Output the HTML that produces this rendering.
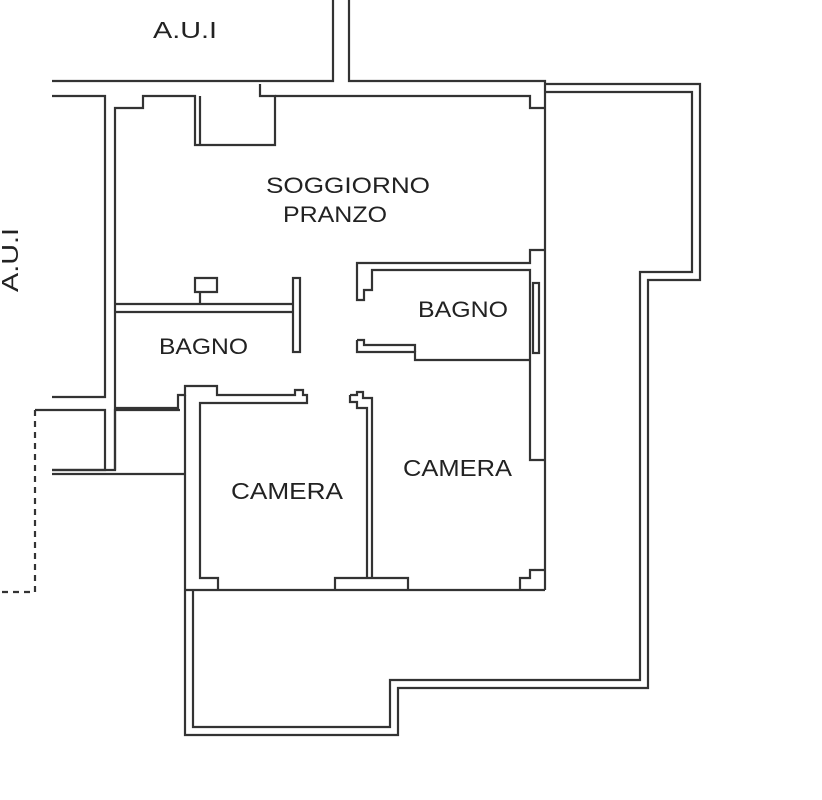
<!DOCTYPE html>
<html><head><meta charset="utf-8"><style>
html,body{margin:0;padding:0;background:#fff;}
svg{display:block;}
text{font-family:"Liberation Sans",sans-serif;fill:#222;}
</style></head><body>
<svg width="822" height="800" viewBox="0 0 822 800" xmlns="http://www.w3.org/2000/svg">
<g fill="none" stroke="#333" stroke-width="2.2" stroke-linejoin="miter">
<polyline points="52,81 333,81 333,0"/>
<polyline points="349,0 349,81 545,81 545,590"/>
<polyline points="52,96 105,96 105,397 52,397"/>
<polyline points="35,410 105,410 105,470 52,470"/>
<polyline points="180,410 115,410 115,470 52,470" />
<line x1="52" y1="474" x2="185" y2="474"/>
<polyline points="35,410 35,592 0,592" stroke-dasharray="6,5"/>
<polyline points="115,470 115,108 143,108 143,96 195,96 195,145 275,145 275,96 260,96 260,84"/>
<polyline points="200,96 200,145"/>
<polyline points="275,96 530,96 530,108 545,108"/>
<polyline points="115,304 293,304"/>
<polyline points="115,312 293,312"/>
<rect x="293" y="278" width="7" height="74"/>
<polyline points="200,304 200,292 195,292 195,278 217,278 217,292 200,292"/>
<polyline points="115,408 178,408 178,395 185,395 185,386 217,386 217,395 295,395 295,390 303,390 303,395 307,395 307,403 200,403 200,578 218,578 218,590"/>
<polyline points="185,395 185,735 398,735 398,688 648,688 648,280 700,280 700,84 545,84"/>
<polyline points="193,590 193,727 390,727 390,680 640,680 640,272 692,272 692,92 545,92"/>
<line x1="185" y1="590" x2="545" y2="590"/>
<polyline points="350,395 357,395 357,392 363,392 363,398 372,398 372,578"/>
<polyline points="350,395 350,402 357,402 357,408 367,408 367,578"/>
<polyline points="335,590 335,578 408,578 408,590"/>
<polyline points="520,590 520,578 530,578 530,570 545,570"/>
<polyline points="545,250 530,250 530,263 357,263 357,300 364,300 364,290 372,290 372,270 530,270 530,460 545,460"/>
<rect x="533" y="283" width="6" height="70"/>
<polyline points="357,340 357,352 415,352 415,360 530,360"/>
<polyline points="357,340 364,340 364,345 415,345 415,352"/>
</g>
<text x="153" y="38" font-size="23" textLength="64" lengthAdjust="spacingAndGlyphs">A.U.I</text>
<text x="0" y="0" font-size="23" textLength="64" lengthAdjust="spacingAndGlyphs" transform="translate(18,292) rotate(-90)">A.U.I</text>
<text x="266" y="193" font-size="22" textLength="164" lengthAdjust="spacingAndGlyphs">SOGGIORNO</text>
<text x="283" y="222" font-size="22" textLength="104" lengthAdjust="spacingAndGlyphs">PRANZO</text>
<text x="418" y="317" font-size="22" textLength="90" lengthAdjust="spacingAndGlyphs">BAGNO</text>
<text x="159" y="354" font-size="22" textLength="89" lengthAdjust="spacingAndGlyphs">BAGNO</text>
<text x="231" y="499" font-size="23" textLength="112" lengthAdjust="spacingAndGlyphs">CAMERA</text>
<text x="403" y="476" font-size="23" textLength="109" lengthAdjust="spacingAndGlyphs">CAMERA</text>
</svg>
</body></html>
